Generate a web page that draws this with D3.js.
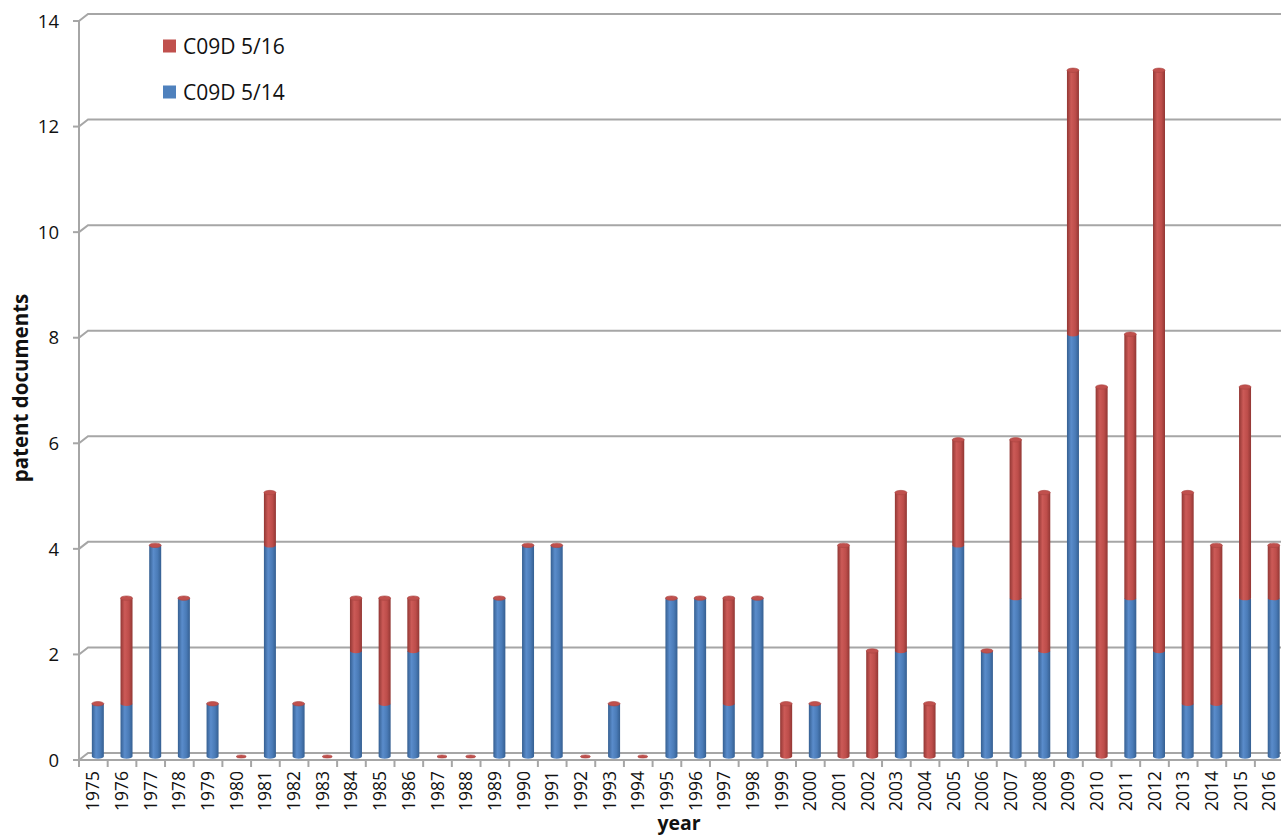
<!DOCTYPE html>
<html>
<head>
<meta charset="utf-8">
<script src="https://cdn.jsdelivr.net/npm/d3@7"></script>
<style>
  html, body { margin: 0; padding: 0; background: #fff; overflow: hidden; }
  svg { display: block; font-family: "Open Sans", "Noto Sans", sans-serif; }
</style>
</head>
<body>
<svg id="chart" width="1281" height="836"></svg>
<script>
// Patent documents per year, stacked by IPC subgroup
const years = [1975,1976,1977,1978,1979,1980,1981,1982,1983,1984,1985,1986,1987,1988,
  1989,1990,1991,1992,1993,1994,1995,1996,1997,1998,1999,2000,2001,2002,2003,2004,
  2005,2006,2007,2008,2009,2010,2011,2012,2013,2014,2015,2016];
const c09d514 = [1,1,4,3,1,0,4,1,0,2,1,2,0,0,3,4,4,0,1,0,3,3,1,3,0,1,0,0,2,0,4,2,3,2,8,0,3,2,1,1,3,3];
const c09d516 = [0,2,0,0,0,0,1,0,0,1,2,1,0,0,0,0,0,0,0,0,0,0,2,0,1,0,4,2,3,1,2,0,3,3,5,7,5,11,4,3,4,1];
const yTicks = [0,2,4,6,8,10,12,14];
const seriesNames = ["C09D 5/16", "C09D 5/14"];

const svg = d3.select("#chart");
const axisX = 79;          // front edge of the value axis
const depthX = 9, depthY = -7;  // 3-D depth offset of the back wall
const grey = "#a6a6a6";

const y = d3.scaleLinear().domain([0, 14]).range([760, 21]);
const x = d3.scaleBand().domain(years).range([axisX, axisX + 28.68 * years.length]).padding(0);

// Back-wall gridlines with the short diagonal joining them to the axis
const grid = svg.append("g");
yTicks.forEach(v => {
  const yy = y(v);
  grid.append("path")
    .attr("d", `M${axisX},${yy} L${axisX + depthX},${yy + depthY} L1290,${yy + depthY}`)
    .attr("fill", "none").attr("stroke", grey).attr("stroke-width", 2);
  grid.append("line")
    .attr("x1", axisX - 6).attr("x2", axisX).attr("y1", yy).attr("y2", yy)
    .attr("stroke", grey).attr("stroke-width", 2);
  grid.append("text")
    .attr("x", 59).attr("y", yy).attr("dy", "0.36em")
    .attr("text-anchor", "end").attr("font-size", 18.5).attr("fill", "#111")
    .text(v);
});
// value axis line and floor front edge
grid.append("line").attr("x1", axisX).attr("x2", axisX).attr("y1", y(14)).attr("y2", y(0))
  .attr("stroke", grey).attr("stroke-width", 2);
grid.append("line").attr("x1", axisX).attr("x2", 1290).attr("y1", y(0)).attr("y2", y(0))
  .attr("stroke", grey).attr("stroke-width", 2);
// category tick marks on band boundaries
years.forEach(yr => {
  const bx = x(yr);
  grid.append("line").attr("x1", bx).attr("x2", bx).attr("y1", y(0)).attr("y2", y(0) + 7)
    .attr("stroke", grey).attr("stroke-width", 2);
});

// Cylinder shading gradients
const defs = svg.append("defs");
function cylGradient(id, edge, mid, light) {
  const g = defs.append("linearGradient").attr("id", id)
    .attr("x1", "0%").attr("x2", "100%").attr("y1", "0%").attr("y2", "0%");
  g.append("stop").attr("offset", "0%").attr("stop-color", edge);
  g.append("stop").attr("offset", "35%").attr("stop-color", light);
  g.append("stop").attr("offset", "70%").attr("stop-color", mid);
  g.append("stop").attr("offset", "100%").attr("stop-color", edge);
}
cylGradient("gBlue", "#355f91", "#4a7bb7", "#5a8ccb");
cylGradient("gRed", "#923734", "#bd4d4a", "#cc5a57");

const barW = 12;
const rx = barW / 2, ry = 2.2;
const ym = v => y(v) - 3.5;   // mid-depth position of the cylinders
const bars = svg.append("g");

years.forEach((yr, i) => {
  const cx = x(yr) + x.bandwidth() / 2 + 4.5;
  const b = c09d514[i], r = c09d516[i];
  const segs = [
    { lo: 0, hi: b, fill: "url(#gBlue)" },
    { lo: b, hi: b + r, fill: "url(#gRed)" }
  ];
  segs.forEach(s => {
    if (s.hi <= s.lo) return;
    const top = ym(s.hi), bot = ym(s.lo);
    bars.append("path")
      .attr("d", `M${cx - rx},${top} L${cx - rx},${bot} A${rx},${ry} 0 0 0 ${cx + rx},${bot} L${cx + rx},${top} Z`)
      .attr("fill", s.fill);
  });
  // top cap of the stack (always from the upper series); flatter when the stack is empty
  const topY = ym(b + r);
  const empty = (b + r) === 0;
  bars.append("ellipse")
    .attr("cx", cx).attr("cy", topY)
    .attr("rx", empty ? rx - 1 : rx).attr("ry", empty ? 1.6 : ry)
    .attr("fill", "#c0504d").attr("stroke", "#a94441").attr("stroke-width", 0.6);
});

// Year labels, rotated
years.forEach(yr => {
  const lx = x(yr) + x.bandwidth() / 2;
  svg.append("text")
    .attr("transform", `translate(${lx + 6},${771}) rotate(-90)`)
    .attr("text-anchor", "end").attr("font-size", 17.5).attr("fill", "#111")
    .text(yr);
});

// Axis titles
svg.append("text")
  .attr("transform", "translate(28,388) rotate(-90)")
  .attr("text-anchor", "middle").attr("font-size", 20.5).attr("font-weight", "bold").attr("fill", "#111")
  .text("patent documents");
svg.append("text")
  .attr("x", 679).attr("y", 830)
  .attr("text-anchor", "middle").attr("font-size", 19.5).attr("font-weight", "bold").attr("fill", "#111")
  .text("year");

// Legend
const legColors = ["#c0504d", "#4f81bd"];
seriesNames.forEach((n, i) => {
  const ly = 46 + i * 46;
  svg.append("rect").attr("x", 163).attr("y", ly - 6.5).attr("width", 13).attr("height", 13)
    .attr("fill", legColors[i]);
  svg.append("text").attr("x", 183).attr("y", ly).attr("dy", "0.36em")
    .attr("font-size", 21).attr("fill", "#111").text(n);
});
</script>
</body>
</html>
